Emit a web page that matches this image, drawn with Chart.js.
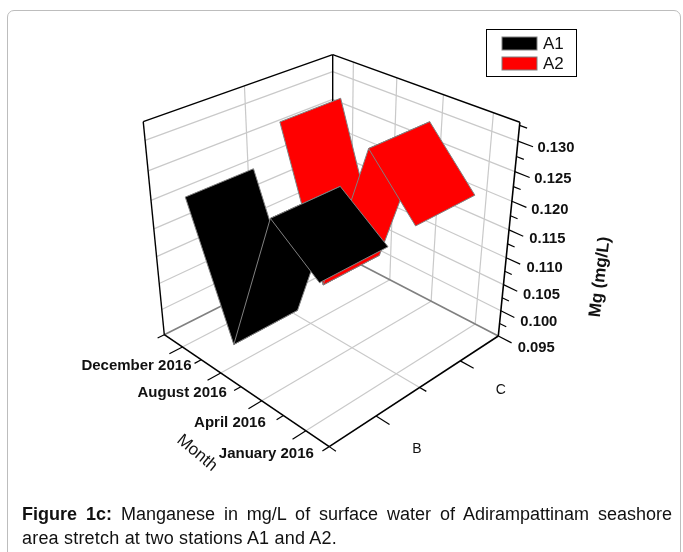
<!DOCTYPE html>
<html>
<head>
<meta charset="utf-8">
<script src="https://cdn.jsdelivr.net/npm/chart.js@4"></script>
<style>
  html, body { margin: 0; padding: 0; background: #fff; }
  #wrap { position: relative; width: 683px; height: 552px; overflow: hidden; }
  #frame { position: absolute; left: 7px; top: 10px; width: 674px; height: 560px;
           border: 1px solid #bdbdbd; border-radius: 7px; box-sizing: border-box; }
  canvas { position: absolute; left: 0; top: 0; }
  #caption { position: absolute; left: 22px; top: 502px; width: 650px; color: #111;
             font: 18px/24px "Liberation Sans", Arial, sans-serif; }
  #caption .first { text-align: justify; text-align-last: justify; white-space: normal; }
  #caption .second { letter-spacing: 0.2px; }
</style>
</head>
<body>
<div id="wrap">
  <div id="frame"></div>
  <canvas id="c" width="683" height="552"></canvas>
  <div id="caption">
    <div class="first"><b>Figure 1c:</b> Manganese in mg/L of surface water of Adirampattinam seashore</div>
    <div class="second">area stretch at two stations A1 and A2.</div>
  </div>
</div>
<script>
const months = ["December 2016", "August 2016", "April 2016", "January 2016"];
const stations = ["B", "C"];
const seriesNames = ["A1", "A2"];
const a1Values = [0.1213, 0.0990, 0.1253, 0.1192];
const a2Values = [0.1275, 0.1013, 0.1294, 0.1203];
const mgTicks = [0.095, 0.100, 0.105, 0.110, 0.115, 0.120, 0.125, 0.130];
const mgMin = 0.095;
const mgMax = 0.133;

const black = "#000000";
const red = "#ff0000";
const edge = "#808080";
const grid = "#c9c9c9";
const font = '"Liberation Sans", Arial, sans-serif';

// perspective box: floor back corner, left, right, wall top corner + their weights
const O = [332.4, 250];
const A = [164.3, 334.7];
const B = [498.3, 336];
const C = [332.7, 54.7];
const wA = 0.885, wB = 0.882, wC = 0.9;

// u: back wall to month axis, v: left wall to station axis, w: 0..1 up the Mg axis
function project(u, v, w) {
  const k = 1 - u - v - w;
  const d = k + wA * u + wB * v + wC * w;
  return {
    x: (k * O[0] + wA * u * A[0] + wB * v * B[0] + wC * w * C[0]) / d,
    y: (k * O[1] + wA * u * A[1] + wB * v * B[1] + wC * w * C[1]) / d,
  };
}
const mgFrac = (val) => (val - mgMin) / (mgMax - mgMin);
const monthPos = (i) => (i + 0.5) / months.length;

function line(p, q, color, width) {
  return { data: [p, q], borderColor: color, borderWidth: width, pointRadius: 0, fill: false, tension: 0 };
}

const datasets = [];
const add = (d) => datasets.push(d);

// walls and floor grid
mgTicks.slice(1).forEach((t) => {
  const w = mgFrac(t);
  add(line(project(1, 0, w), project(0, 0, w), grid, 1.2));
  add(line(project(0, 0, w), project(0, 1, w), grid, 1.2));
});
add(line(project(0.5, 0, 0), project(0.5, 0, 1), grid, 1.2));
add(line(project(0.5, 0, 0), project(0.5, 1, 0), grid, 1.2));
months.forEach((m, i) => {
  const v = monthPos(i);
  add(line(project(0, v, 0), project(0, v, 1), grid, 1.2));
  add(line(project(0, v, 0), project(1, v, 0), grid, 1.2));
});

// box frame
add(line(project(1, 0, 0), project(0, 0, 0), edge, 1.6));
add(line(project(0, 0, 0), project(0, 1, 0), edge, 1.6));
add(line(project(0, 0, 0), project(0, 0, 1), black, 1.4));
add(line(project(1, 0, 0), project(1, 0, 1), black, 1.4));
add(line(project(1, 0, 1), project(0, 0, 1), black, 1.4));
add(line(project(0, 0, 1), project(0, 1, 1), black, 1.4));

// axes and ticks
add(line(project(1, 0, 0), project(1, 1, 0), black, 1.6));
add(line(project(1, 1, 0), project(0, 1, 0), black, 1.6));
add(line(project(0, 1, 0), project(0, 1, 1), black, 1.6));
months.forEach((m, i) => {
  add(line(project(1, monthPos(i), 0), project(1.068, monthPos(i), 0), black, 1.2));
});
[0, 0.25, 0.5, 0.75, 1].forEach((v) => {
  add(line(project(1, v, 0), project(1.035, v, 0), black, 1.2));
});
[0.25, 0.75].forEach((u) => {
  add(line(project(u, 1, 0), project(u, 1.07, 0), black, 1.2));
});
[0.5, 1].forEach((u) => {
  add(line(project(u, 1, 0), project(u, 1.035, 0), black, 1.2));
});
mgTicks.forEach((t) => {
  add(line(project(0, 1, mgFrac(t)), project(0, 1.07, mgFrac(t)), black, 1.2));
  add(line(project(0, 1, mgFrac(t + 0.0025)), project(0, 1.035, mgFrac(t + 0.0025)), black, 1.2));
});

// ribbons, one panel between each pair of months
function ribbon(values, center, color) {
  const half = 0.175;
  for (let i = 0; i < values.length - 1; i++) {
    const w0 = mgFrac(values[i]);
    const w1 = mgFrac(values[i + 1]);
    const v0 = monthPos(i);
    const v1 = monthPos(i + 1);
    const p0 = project(center + half, v0, w0);
    add({
      data: [p0, project(center - half, v0, w0), project(center - half, v1, w1), project(center + half, v1, w1), p0],
      borderColor: edge,
      borderWidth: 1,
      backgroundColor: color,
      fill: "shape",
      pointRadius: 0,
      tension: 0,
    });
  }
}
ribbon(a2Values, 0.25, red);
ribbon(a1Values, 0.75, black);

// later datasets go on top
datasets.forEach((d, i) => { d.order = datasets.length - i; });

const monthNudge = [3, 0, -2, 2];

const textPlugin = {
  id: "boxText",
  afterDraw(chart) {
    const ctx = chart.ctx;
    ctx.save();
    ctx.fillStyle = "#111";
    ctx.textBaseline = "middle";

    ctx.font = "bold 15px " + font;
    ctx.textAlign = "right";
    months.forEach((m, i) => {
      const p = project(1, monthPos(i), 0);
      ctx.fillText(m, p.x + 6 + monthNudge[i], p.y + 19 + i * 1.3);
    });
    ctx.font = "bold 14.8px " + font;
    mgTicks.forEach((t) => {
      const p = project(0, 1, mgFrac(t));
      ctx.fillText(t.toFixed(3), p.x + 56.5, p.y + 7 + (0.13 - t) * 140);
    });

    ctx.font = "14px " + font;
    ctx.textAlign = "center";
    stations.forEach((s, i) => {
      const p = project(0.75 - i * 0.5, 1.25, 0);
      ctx.fillText(s, p.x - 8.5, p.y + 2);
    });

    ctx.save();
    ctx.translate(197, 453);
    ctx.rotate((40 * Math.PI) / 180);
    ctx.font = "17px " + font;
    ctx.fillText("Month", 0, 0);
    ctx.restore();

    ctx.save();
    ctx.translate(600, 277);
    ctx.rotate((-83 * Math.PI) / 180);
    ctx.font = "bold 17px " + font;
    ctx.fillText("Mg (mg/L)", 0, 0);
    ctx.restore();

    // legend
    ctx.strokeStyle = "#000";
    ctx.lineWidth = 1;
    ctx.strokeRect(486.5, 29.5, 90, 47);
    ctx.textAlign = "left";
    ctx.font = "17px " + font;
    seriesNames.forEach((name, i) => {
      const top = 37 + i * 20;
      ctx.fillStyle = i === 0 ? black : red;
      ctx.fillRect(502, top, 35, 13);
      ctx.strokeStyle = edge;
      ctx.strokeRect(502, top, 35, 13);
      ctx.fillStyle = "#111";
      ctx.fillText(name, 543, top + 7);
    });
    ctx.restore();
  },
};

new Chart(document.getElementById("c"), {
  type: "line",
  data: { datasets },
  plugins: [textPlugin],
  options: {
    responsive: false,
    animation: false,
    layout: { padding: 0 },
    plugins: { legend: { display: false }, tooltip: { enabled: false } },
    scales: {
      x: { type: "linear", min: 0, max: 683, display: false },
      y: { type: "linear", min: 0, max: 552, reverse: true, display: false },
    },
  },
});
</script>
</body>
</html>
